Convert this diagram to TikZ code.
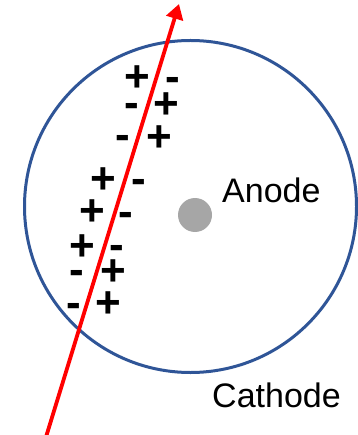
\documentclass[tikz,border=0pt]{standalone}
\usepackage{fontspec}
\setmainfont{Liberation Sans}
\usetikzlibrary{arrows.meta}
\newfontfamily\signfont{Liberation Sans}[Scale=1]
\definecolor{ringblue}{HTML}{2F5597}
\definecolor{dotgray}{HTML}{A6A6A6}
\definecolor{arrowred}{HTML}{FF0000}
\tikzset{
  sign/.style={inner sep=0pt, text height=0pt, text depth=0pt, font=\signfont\bfseries\fontsize{44}{44}\selectfont},
  plussign/.style={sign, yshift=-15.4pt},
  minussign/.style={sign, yshift=-11pt},
  label/.style={inner sep=0pt, anchor=base west, font=\fontsize{34}{34}\selectfont},
  ring/.style={draw=ringblue, line width=3pt},
  beam/.style={draw=arrowred, line width=3.8pt, -{Triangle[length=15pt,width=17pt]}}
}
\begin{document}
\begin{tikzpicture}[x=1pt,y=-1pt]
\useasboundingbox (0,0) rectangle (357,435);
\draw[ring] (190.5,206.5) circle[radius=166];
\fill[dotgray] (195,215) circle[radius=17];
\node[label] (anode) at (222,203) {Anode};
\node[label] (cathode) at (212,407) {Cathode};
\coordinate (beamstart) at (46,437);
\coordinate (beamend) at (179,4);
\draw[beam] (beamstart) -- (beamend);
\node[plussign] (p1) at (137,76) {+};
\node[minussign] (m1) at (173,81) {-};
\node[minussign] (m2) at (132,107) {-};
\node[plussign] (p2) at (166,103) {+};
\node[minussign] (m3) at (123,139) {-};
\node[plussign] (p3) at (159,136) {+};
\node[plussign] (p4) at (103,178) {+};
\node[minussign] (m4) at (139,183) {-};
\node[plussign] (p5) at (92,210) {+};
\node[minussign] (m5) at (126,215) {-};
\node[plussign] (p6) at (82,245) {+};
\node[minussign] (m6) at (117,248) {-};
\node[minussign] (m7) at (77,273) {-};
\node[plussign] (p7) at (113,270) {+};
\node[minussign] (m8) at (74,306) {-};
\node[plussign] (p8) at (108,302) {+};
\end{tikzpicture}
\end{document}
